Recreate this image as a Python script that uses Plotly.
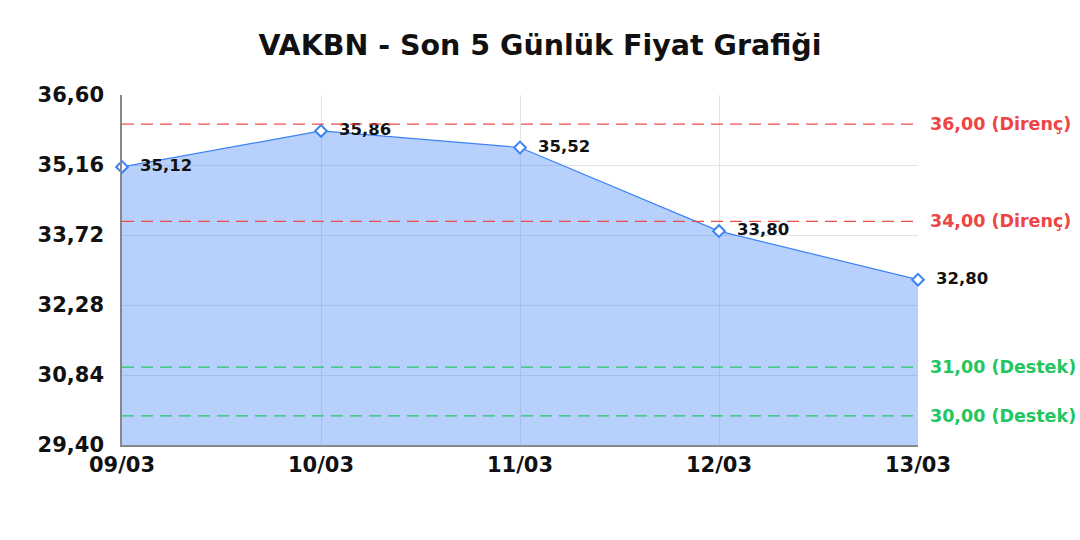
import plotly.graph_objects as go

dates = ["09/03", "10/03", "11/03", "12/03", "13/03"]
prices = [35.12, 35.86, 35.52, 33.80, 32.80]
resistance_levels = [36.00, 34.00]
support_levels = [31.00, 30.00]
y_ticks = [29.40, 30.84, 32.28, 33.72, 35.16, 36.60]

FONT = "DejaVu Sans"
RED = "#ef4444"
GREEN = "#22c55e"
BLUE = "#3b82f6"
DASH = "12px,7px"

fig = go.Figure()
fig.add_trace(go.Scatter(
    x=dates, y=prices,
    mode="lines+markers+text",
    line=dict(color=BLUE, width=1.2),
    fill="tozeroy",
    fillcolor="rgba(59,130,246,0.37)",
    marker=dict(symbol="diamond", size=9, color="white",
                line=dict(color=BLUE, width=2)),
    texttemplate="  %{y:.2f}",
    textposition="middle right",
    textfont=dict(family=FONT, size=16.5, color="#111111", weight="bold"),
    cliponaxis=False,
    hoverinfo="skip",
    showlegend=False,
))

for lvl in resistance_levels:
    fig.add_hline(y=lvl, line=dict(color=RED, width=1.3, dash=DASH), opacity=0.95)
    fig.add_annotation(x=1, xref="paper", y=lvl, yref="y", xanchor="left",
                       xshift=10, text=f"{lvl:.2f}".replace(".", ",") + " (Direnç)",
                       showarrow=False,
                       font=dict(family=FONT, size=17.5, color=RED, weight="bold"))
for lvl in support_levels:
    fig.add_hline(y=lvl, line=dict(color=GREEN, width=1.3, dash=DASH), opacity=0.95)
    fig.add_annotation(x=1, xref="paper", y=lvl, yref="y", xanchor="left",
                       xshift=10, text=f"{lvl:.2f}".replace(".", ",") + " (Destek)",
                       showarrow=False,
                       font=dict(family=FONT, size=17.5, color=GREEN, weight="bold"))

fig.update_layout(
    width=1080, height=540,
    margin=dict(l=122, r=162, t=95, b=95),
    paper_bgcolor="white", plot_bgcolor="white",
    separators=",.",
    title=dict(text="VAKBN - Son 5 Günlük Fiyat Grafiği", x=0.5, xanchor="center",
               xref="container",
               y=1 - 45 / 540, yanchor="middle",
               font=dict(family=FONT, size=28.5, color="#111111", weight="bold")),
    font=dict(family=FONT),
)
fig.update_xaxes(
    type="category", range=[0, len(dates) - 1],
    showgrid=True, gridcolor="#e3e3e3", gridwidth=1,
    showline=True, linecolor="#888888", linewidth=1.5,
    ticks="", tickfont=dict(family=FONT, size=21, color="#111111", weight="bold"),
    ticklabelstandoff=0,
)
fig.update_yaxes(
    range=[y_ticks[0], y_ticks[-1]],
    tickvals=y_ticks, tickformat=".2f",
    showgrid=True, gridcolor="#e3e3e3", gridwidth=1,
    showline=True, linecolor="#888888", linewidth=1.5,
    ticks="", tickfont=dict(family=FONT, size=21, color="#111111", weight="bold"),
    ticklabelstandoff=12,
    zeroline=False,
)

fig.write_html(
    "out.html",
    config={"displayModeBar": False},
    post_script="document.body.style.margin='0';document.body.style.overflow='hidden';",
)
